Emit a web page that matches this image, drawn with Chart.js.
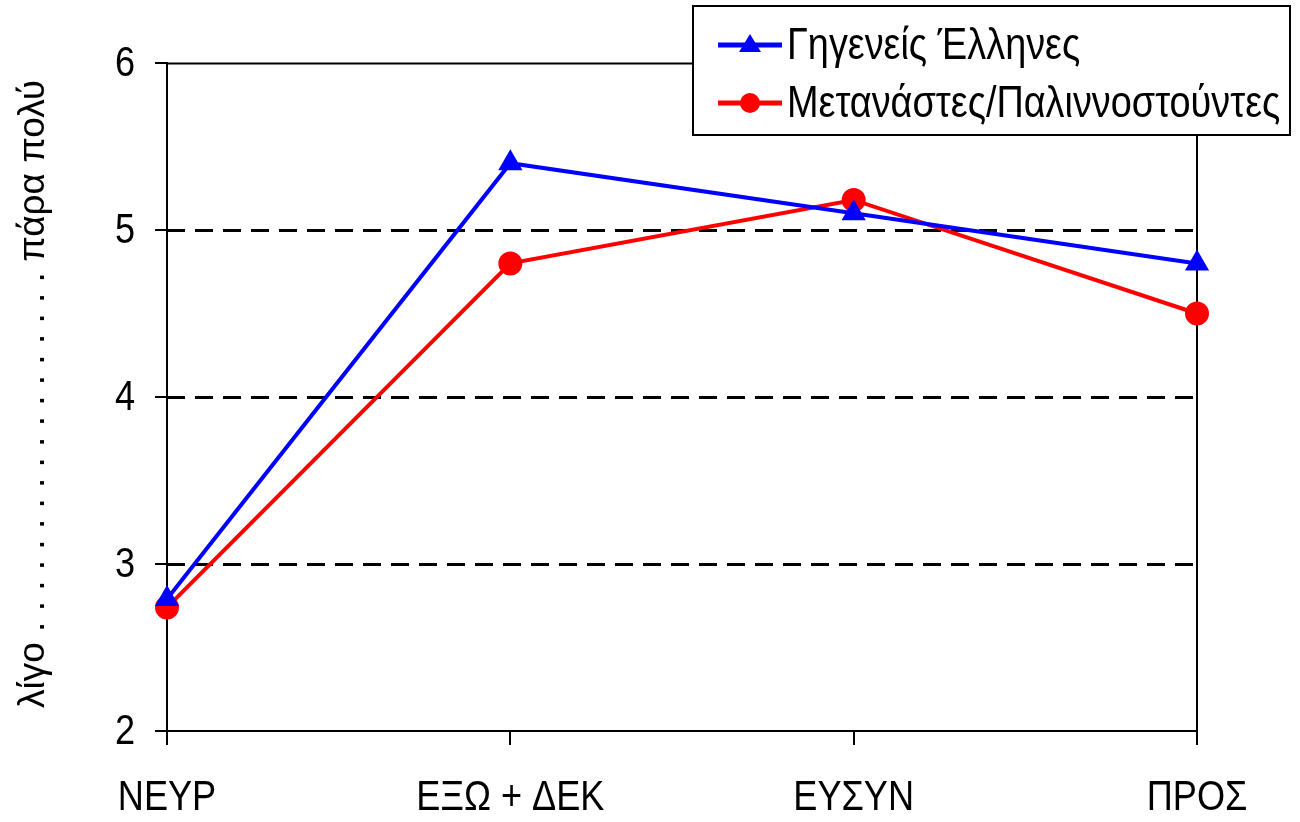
<!DOCTYPE html>
<html>
<head>
<meta charset="utf-8">
<script src="https://cdn.jsdelivr.net/npm/chart.js@4"></script>
<style>
html, body { margin:0; padding:0; background:#fff; }
#wrap { width:1300px; height:822px; }
</style>
</head>
<body>
<div id="wrap"><canvas id="chart"></canvas></div>
<script>
// categories + series
const categories = ["ΝΕΥΡ", "ΕΞΩ + ΔΕΚ", "ΕΥΣΥΝ", "ΠΡΟΣ"];
const natives = [2.79, 5.40, 5.10, 4.80];
const migrants = [2.74, 4.80, 5.18, 4.50];
const yTicks = [2, 3, 4, 5, 6];
const seriesNames = ["Γηγενείς Έλληνες", "Μετανάστες/Παλιννοστούντες"];
const yTitle = "λίγο" + " .".repeat(18) + " πάρα πολύ";

const FONT = "'Liberation Sans', Arial, sans-serif";
const NARROW = 0.86; // no narrow font installed, so squeeze the normal one

// draw text squeezed along its own direction (fake Arial Narrow)
function narrowText(ctx, text, x, y, size, align, baseline, rot, squeeze) {
    ctx.save();
    ctx.translate(x, y);
    if (rot) ctx.rotate(rot);
    ctx.scale(squeeze, 1);
    ctx.font = size + "px " + FONT;
    ctx.fillStyle = "#000";
    ctx.textAlign = align;
    ctx.textBaseline = baseline;
    ctx.fillText(text, 0, 0);
    ctx.restore();
}

// dashed grid + top/right frame
const framePlugin = {
    id: "frame",
    beforeDatasetsDraw(chart) {
        const {ctx, chartArea: a, scales: {y}} = chart;
        ctx.save();
        ctx.strokeStyle = "#000";
        yTicks.forEach(v => {
            if (v === y.min) return;
            const py = Math.round(y.getPixelForValue(v)) + 0.5;
            ctx.lineWidth = v === y.max ? 2 : 3;
            ctx.setLineDash(v === y.max ? [] : [18, 10]);
            ctx.beginPath();
            ctx.moveTo(a.left, py);
            ctx.lineTo(a.right, py);
            ctx.stroke();
        });
        ctx.setLineDash([]);
        ctx.lineWidth = 2;
        ctx.beginPath();
        ctx.moveTo(a.right, a.top);
        ctx.lineTo(a.right, a.bottom);
        ctx.stroke();
        ctx.restore();
    }
};

// tick labels, axis title and the boxed legend
const textPlugin = {
    id: "texts",
    afterDraw(chart) {
        const {ctx, scales: {x, y}} = chart;

        yTicks.forEach(v => {
            narrowText(ctx, String(v), 135, y.getPixelForValue(v) + 1, 42, "right", "middle", 0, NARROW);
        });
        categories.forEach((c, i) => {
            narrowText(ctx, c, x.getPixelForTick(i), 798, 42, "center", "middle", 0, NARROW);
        });
        narrowText(ctx, yTitle, 44, (y.top + y.bottom) / 2 - 3, 37, "center", "alphabetic", -Math.PI / 2, 1);

        const bx = 693, by = 6, bw = 597, bh = 129;
        ctx.save();
        ctx.fillStyle = "#fff";
        ctx.fillRect(bx, by, bw, bh);
        ctx.strokeStyle = "#000";
        ctx.lineWidth = 2;
        ctx.strokeRect(bx, by, bw, bh);
        chart.data.datasets.forEach((ds, i) => {
            const cy = 45 + i * 58;
            ctx.strokeStyle = ds.borderColor;
            ctx.lineWidth = 5;
            ctx.beginPath();
            ctx.moveTo(718, cy);
            ctx.lineTo(782, cy);
            ctx.stroke();
            ctx.fillStyle = ds.borderColor;
            ctx.beginPath();
            if (ds.pointStyle === "triangle") {
                ctx.moveTo(750, cy - 11);
                ctx.lineTo(761, cy + 7);
                ctx.lineTo(739, cy + 7);
                ctx.closePath();
            } else {
                ctx.arc(750, cy, 10, 0, Math.PI * 2);
            }
            ctx.fill();
            narrowText(ctx, ds.label, 787, cy + 2, 44, "left", "middle", 0, NARROW);
        });
        ctx.restore();
    }
};

new Chart(document.getElementById("chart"), {
    type: "line",
    data: {
        labels: categories,
        datasets: [{
            label: seriesNames[0],
            data: natives,
            borderColor: "#0000ff",
            backgroundColor: "#0000ff",
            borderWidth: 4,
            pointStyle: "triangle",
            pointRadius: 10,
            pointHoverRadius: 10,
            tension: 0
        }, {
            label: seriesNames[1],
            data: migrants,
            borderColor: "#ff0000",
            backgroundColor: "#ff0000",
            borderWidth: 4,
            pointStyle: "circle",
            pointRadius: 10,
            pointHoverRadius: 10,
            tension: 0
        }]
    },
    options: {
        responsive: true,
        maintainAspectRatio: false,
        animation: false,
        layout: { padding: { top: 63, right: 103, bottom: 0, left: 0 } },
        plugins: {
            legend: { display: false },
            tooltip: { enabled: false }
        },
        scales: {
            x: {
                offset: false,
                grid: { drawOnChartArea: false, color: "#000", lineWidth: 2, tickLength: 14 },
                border: { color: "#000", width: 2 },
                ticks: { display: false },
                afterFit: s => { s.height = 91; }
            },
            y: {
                min: 2,
                max: 6,
                grid: { drawOnChartArea: false, color: "#000", lineWidth: 2, tickLength: 12 },
                border: { color: "#000", width: 2 },
                ticks: { display: false, stepSize: 1 },
                afterFit: s => { s.width = 167; }
            }
        }
    },
    plugins: [framePlugin, textPlugin]
});
</script>
</body>
</html>
